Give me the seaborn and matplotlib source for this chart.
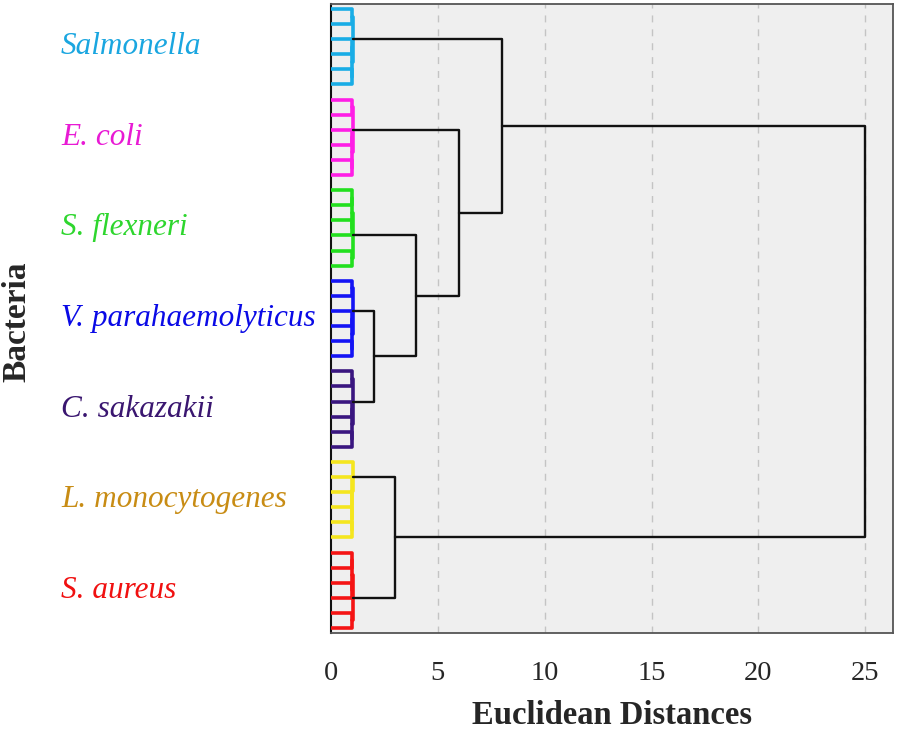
import matplotlib
matplotlib.use("Agg")
import matplotlib.pyplot as plt
import matplotlib.transforms as mtransforms
import seaborn as sns
import pandas as pd

# ---------------- data ----------------
bacteria = ["Salmonella", "E. coli", "S. flexneri", "V. parahaemolyticus",
            "C. sakazakii", "L. monocytogenes", "S. aureus"]
line_colors = ["#19ade6", "#ff1ee6", "#22e01e", "#1414f5",
               "#3a1680", "#f5e61e", "#f51414"]
label_colors = ["#1aa6e0", "#e81ad4", "#2ed62e", "#0a0ae6",
                "#3a1670", "#c88c14", "#f01010"]

# within-cluster merge structures (leaf indices 0..5, merge height)
shape_mid = ((0, 1, 0.97), ((2, 3, 0.98), (4, 5, 0.96), 1.0), 1.03)
shape_low = (((0, 1, 0.97), (2, 3, 0.98), 1.0), (4, 5, 0.96), 1.03)
shape_high = (0, (1, (2, (3, (4, 5, 0.96), 0.98), 0.99), 1.0), 1.03)
cluster_shapes = {
    "Salmonella": shape_mid,
    "E. coli": shape_mid,
    "S. flexneri": shape_low,
    "V. parahaemolyticus": shape_mid,
    "C. sakazakii": shape_mid,
    "L. monocytogenes": shape_high,
    "S. aureus": shape_low,
}

# between-cluster linkage (left, right, Euclidean distance)
upper_tree = (
    ("Salmonella",
     ("E. coli",
      ("S. flexneri",
       ("V. parahaemolyticus", "C. sakazakii", 2.0), 4.0), 6.0), 8.0),
    ("L. monocytogenes", "S. aureus", 3.0),
    25.0)

x_ticks = [0, 5, 10, 15, 20, 25]

# ---------------- build segments from the tree ----------------
rows = []
seg_id = [0]
leaf_counter = [0]
cluster_centers = {}


def add_link(x0, y0, h, y1, x1, group):
    pts = [(x0, y0), (h, y0), (h, y1), (x1, y1)]
    for k, (x, y) in enumerate(pts):
        rows.append({"x": x, "y": y, "seg": seg_id[0], "order": k, "group": group})
    seg_id[0] += 1


def build_inner(node, group):
    if isinstance(node, int):
        pos = leaf_counter[0]
        leaf_counter[0] += 1
        return pos, 0.0
    left, right, h = node
    yl, hl = build_inner(left, group)
    yr, hr = build_inner(right, group)
    add_link(hl, yl, h, yr, hr, group)
    return (yl + yr) / 2.0, h


def build_upper(node):
    if isinstance(node, str):
        start = leaf_counter[0]
        pos, h = build_inner(cluster_shapes[node], node)
        cluster_centers[node] = (start + leaf_counter[0] - 1) / 2.0
        return pos, h
    left, right, h = node
    yl, hl = build_upper(left)
    yr, hr = build_upper(right)
    add_link(hl, yl, h, yr, hr, "link")
    return (yl + yr) / 2.0, h


build_upper(upper_tree)
df = pd.DataFrame(rows)
n_leaves = leaf_counter[0]

# ---------------- plot ----------------
sns.set_theme(style="white")
plt.rcParams["font.family"] = ["Liberation Serif", "DejaVu Serif"]

fig = plt.figure(figsize=(8.98, 7.3), dpi=100)
ax = fig.add_axes([331 / 898, 1 - 633 / 730, (893 - 331) / 898, (633 - 4) / 730])
ax.set_facecolor("#efefef")

for x in x_ticks[1:]:
    ax.axvline(x, color="#c4c4c4", lw=1.0, ls=(0, (5, 5)), zorder=0)

palette = {b: c for b, c in zip(bacteria, line_colors)}

df_inner = df[df["group"] != "link"]
df_link = df[df["group"] == "link"]

sns.lineplot(data=df_inner, x="x", y="y", units="seg", estimator=None, sort=False,
             hue="group", palette=palette, lw=2.6, legend=False, ax=ax, zorder=3)
sns.lineplot(data=df_link, x="x", y="y", units="seg", estimator=None, sort=False,
             color="#111111", lw=1.7, legend=False, ax=ax, zorder=4)

ax.set_xlim(0, 26.3)
ax.set_ylim(n_leaves - 1 + 0.33, -0.33)
ax.set_xticks(x_ticks)
ax.set_xticklabels([str(t) for t in x_ticks], fontsize=20.5)
ax.set_yticks([])
ax.tick_params(axis="x", direction="out", length=14, width=1.4, color="#111111", pad=6)

for side in ["top", "right", "bottom"]:
    ax.spines[side].set_color("#555555")
    ax.spines[side].set_linewidth(1.3)
ax.spines["left"].set_color("#111111")
ax.spines["left"].set_linewidth(1.5)

ax.set_xlabel("")
ax.set_ylabel("")
fig.text((331 + 893) / 2 / 898, 1 - 716 / 730, "Euclidean Distances", fontsize=23.5,
         fontweight="bold", ha="center", va="center")
fig.text(17 / 898, 1 - 322 / 730, "Bacteria", rotation=90, fontsize=24,
         fontweight="bold", ha="center", va="center")

trans = mtransforms.blended_transform_factory(fig.transFigure, ax.transData)
for name, col in zip(bacteria, label_colors):
    ax.text(61 / 898, cluster_centers[name], name, transform=trans, fontsize=22.5,
            fontstyle="italic", color=col, ha="left", va="center", clip_on=False)

fig.savefig("out.png", dpi=100)
